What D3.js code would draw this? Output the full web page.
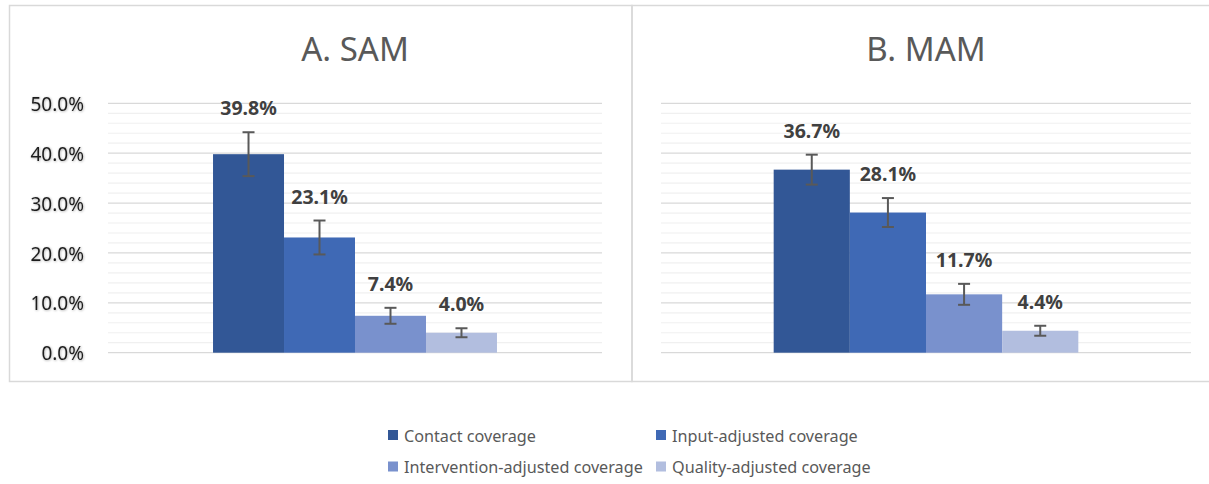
<!DOCTYPE html>
<html>
<head>
<meta charset="utf-8">
<script src="https://cdn.jsdelivr.net/npm/d3@7"></script>
<style>
  body { margin: 0; background: #fff; }
  svg { display: block; font-family: "Noto Sans", sans-serif; }
</style>
</head>
<body>
<div id="chart"></div>
<script>
// data
const panels = ['A. SAM', 'B. MAM'];
const seriesNames = ['Contact coverage', 'Input-adjusted coverage',
  'Intervention-adjusted coverage', 'Quality-adjusted coverage'];
const samValues = [0.398, 0.231, 0.074, 0.040];
const mamValues = [0.367, 0.281, 0.117, 0.044];
const samErrors = [0.044, 0.034, 0.016, 0.009];
const mamErrors = [0.030, 0.029, 0.021, 0.010];
const yTicks = [0, 0.1, 0.2, 0.3, 0.4, 0.5];
const colors = ['#325796', '#3f69b5', '#7991cd', '#b2bedf'];

const width = 1209;
const height = 484;

const svg = d3.select('#chart')
  .append('svg')
  .attr('width', width)
  .attr('height', height);

// soft glow for the axis labels
const filter = svg.append('defs').append('filter')
  .attr('id', 'glow')
  .attr('x', '-20%').attr('y', '-40%')
  .attr('width', '140%').attr('height', '180%');
filter.append('feDropShadow')
  .attr('dx', 0.6).attr('dy', 0.6)
  .attr('stdDeviation', 0.9)
  .attr('flood-color', '#000')
  .attr('flood-opacity', 0.35);

// panel frames
svg.append('rect')
  .attr('x', 9.5).attr('y', 5.5)
  .attr('width', 622.5).attr('height', 376)
  .attr('fill', 'none').attr('stroke', '#d9d9d9').attr('stroke-width', 1.5);
svg.append('rect')
  .attr('x', 632).attr('y', 5.5)
  .attr('width', 600).attr('height', 376)
  .attr('fill', 'none').attr('stroke', '#d9d9d9').attr('stroke-width', 1.5);

const y = d3.scaleLinear()
  .domain([0, 0.5])
  .range([352.7, 103.3]);

const layouts = [
  { left: 108, right: 602, values: samValues, errors: samErrors, axis: true },
  { left: 661, right: 1191, values: mamValues, errors: mamErrors, axis: false }
];

layouts.forEach((p, k) => {
  const g = svg.append('g');

  const x0 = d3.scaleBand()
    .domain([panels[k]])
    .range([p.left, p.right])
    .padding(0.27);

  const x1 = d3.scaleBand()
    .domain(seriesNames)
    .range([x0(panels[k]), x0(panels[k]) + x0.bandwidth()]);

  // minor grid
  g.append('g')
    .selectAll('line')
    .data(d3.range(0, 0.5001, 0.02).filter(v => Math.round(v * 100) % 10 !== 0))
    .join('line')
      .attr('x1', p.left).attr('x2', p.right)
      .attr('y1', d => y(d)).attr('y2', d => y(d))
      .attr('stroke', '#f0f0f0').attr('stroke-width', 1.2);

  // major grid
  g.append('g')
    .selectAll('line')
    .data(yTicks)
    .join('line')
      .attr('x1', p.left).attr('x2', p.right)
      .attr('y1', d => y(d)).attr('y2', d => y(d))
      .attr('stroke', '#d9d9d9').attr('stroke-width', 1.3);

  if (p.axis) {
    g.append('g')
      .attr('transform', 'translate(84,1)')
      .call(d3.axisLeft(y).tickValues(yTicks).tickFormat(d3.format('.1%')).tickSize(0).tickPadding(0))
      .call(a => a.select('.domain').remove())
      .selectAll('text')
        .attr('font-size', 19)
        .attr('font-family', '"Noto Sans", sans-serif')
        .attr('fill', '#1f1f1f')
        .attr('filter', 'url(#glow)');
  }

  // title
  g.append('text')
    .attr('x', (p.left + p.right) / 2)
    .attr('y', 61)
    .attr('text-anchor', 'middle')
    .attr('font-size', 33)
    .attr('fill', '#595959')
    .text(panels[k]);

  const rows = seriesNames.map((s, i) => ({ name: s, value: p.values[i], err: p.errors[i], color: colors[i] }));

  g.append('g')
    .selectAll('rect')
    .data(rows)
    .join('rect')
      .attr('x', d => x1(d.name))
      .attr('y', d => y(d.value))
      .attr('width', x1.bandwidth())
      .attr('height', d => y(0) - y(d.value))
      .attr('fill', d => d.color);

  // error bars
  const eb = g.append('g')
    .attr('stroke', '#595959')
    .attr('stroke-width', 2)
    .selectAll('g')
    .data(rows)
    .join('g')
      .attr('transform', d => `translate(${x1(d.name) + x1.bandwidth() / 2},0)`);
  eb.append('line')
    .attr('y1', d => y(d.value + d.err)).attr('y2', d => y(d.value - d.err));
  eb.append('line')
    .attr('x1', -6).attr('x2', 6)
    .attr('y1', d => y(d.value + d.err)).attr('y2', d => y(d.value + d.err));
  eb.append('line')
    .attr('x1', -6).attr('x2', 6)
    .attr('y1', d => y(d.value - d.err)).attr('y2', d => y(d.value - d.err));

  // value labels
  g.append('g')
    .selectAll('text')
    .data(rows)
    .join('text')
      .attr('x', d => x1(d.name) + x1.bandwidth() / 2)
      .attr('y', d => y(d.value + d.err) - 17)
      .attr('text-anchor', 'middle')
      .attr('font-size', 19.5)
      .attr('font-weight', 'bold')
      .attr('fill', '#404040')
      .text(d => d3.format('.1%')(d.value));
});

// legend
const legendPos = [[388, 430], [656, 430], [388, 461.5], [656, 461.5]];
const legend = svg.append('g')
  .selectAll('g')
  .data(seriesNames)
  .join('g')
    .attr('transform', (d, i) => `translate(${legendPos[i][0]},${legendPos[i][1]})`);
legend.append('rect')
  .attr('width', 10).attr('height', 10)
  .attr('fill', (d, i) => colors[i]);
legend.append('text')
  .attr('x', 16).attr('y', 11.5)
  .attr('font-size', 16.2)
  .attr('fill', '#595959')
  .text(d => d);
</script>
</body>
</html>
